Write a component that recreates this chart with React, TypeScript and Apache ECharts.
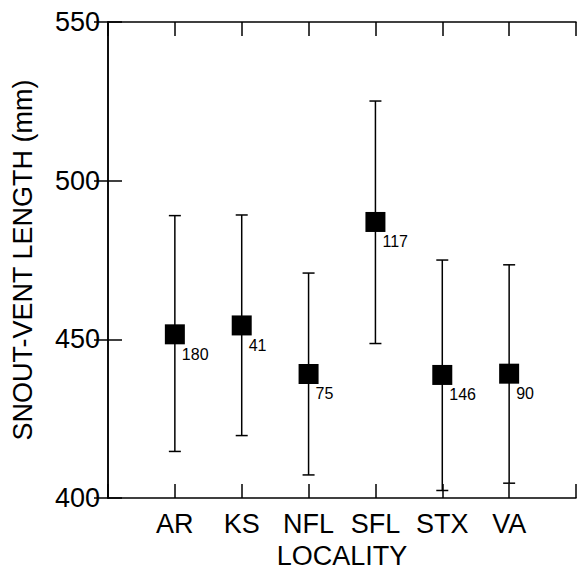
import React, { useEffect, useRef } from "react";
import * as echarts from "echarts";

const localities = ["AR", "KS", "NFL", "SFL", "STX", "VA"];
const means = [451.6, 454.4, 439.1, 487.0, 438.8, 439.2];
const lows = [414.7, 419.7, 407.3, 448.7, 402.4, 404.7];
const highs = [489.0, 489.2, 470.9, 525.1, 475.0, 473.5];
const counts = [180, 41, 75, 117, 146, 90];
const yTicks = [400, 450, 500, 550];

const FONT = "Liberation Sans, Arial, Helvetica, sans-serif";

export default function App() {
  const ref = useRef<HTMLDivElement>(null);
  useEffect(() => {
    if (!ref.current) return;
    document.body.style.margin = "0";
    document.documentElement.style.overflow = "hidden";
    const chart = echarts.init(ref.current, null, { renderer: "svg" });
    const pos = localities.map((_, i) => i + 1);
    const errData = localities.map((_, i) => [pos[i], lows[i], highs[i]]);
    const meanData = localities.map((_, i) => [pos[i], means[i], counts[i]]);
    const axisLine = { show: true, lineStyle: { color: "#000", width: 1.5 } };
    const tick = { show: true, inside: true, length: 14, lineStyle: { color: "#000", width: 1.5 } };
    chart.setOption({
      animation: false,
      backgroundColor: "#fff",
      textStyle: { fontFamily: FONT },
      grid: { left: 108, top: 22, width: 480, height: 480, containLabel: false },
      xAxis: [
        {
          type: "value",
          min: 0,
          max: 7,
          interval: 1,
          position: "bottom",
          axisLine,
          axisTick: tick,
          splitLine: { show: false },
          axisLabel: {
            margin: 12,
            fontSize: 27,
            color: "#000",
            fontFamily: FONT,
            formatter: (v: number) => (v >= 1 && v <= localities.length ? localities[v - 1] : ""),
          },
          name: "LOCALITY",
          nameLocation: "middle",
          nameGap: 42,
          nameTextStyle: { fontSize: 27, color: "#000", fontFamily: FONT },
        },
        {
          type: "value",
          min: 0,
          max: 7,
          interval: 1,
          position: "top",
          axisLine,
          axisTick: tick,
          splitLine: { show: false },
          axisLabel: { show: false },
        },
      ],
      yAxis: [
        {
          type: "value",
          min: yTicks[0],
          max: yTicks[yTicks.length - 1],
          interval: 50,
          position: "left",
          axisLine,
          axisTick: tick,
          splitLine: { show: false },
          axisLabel: { margin: 8, fontSize: 27, color: "#000", fontFamily: FONT },
          name: "SNOUT-VENT LENGTH (mm)",
          nameLocation: "middle",
          nameGap: 72,
          nameRotate: 90,
          nameTextStyle: { fontSize: 27, color: "#000", fontFamily: FONT },
        },
        {
          type: "value",
          min: yTicks[0],
          max: yTicks[yTicks.length - 1],
          interval: 50,
          position: "right",
          axisLine,
          axisTick: tick,
          splitLine: { show: false },
          axisLabel: { show: false },
        },
      ],
      series: [
        {
          type: "custom",
          xAxisIndex: 0,
          yAxisIndex: 0,
          data: errData,
          renderItem: (params: any, api: any) => {
            const x = api.value(0);
            const lo = api.coord([x, api.value(1)]);
            const hi = api.coord([x, api.value(2)]);
            const cap = 6;
            const style = { stroke: "#000", lineWidth: 1.5 };
            return {
              type: "group",
              children: [
                { type: "line", shape: { x1: lo[0], y1: lo[1], x2: hi[0], y2: hi[1] }, style },
                { type: "line", shape: { x1: lo[0] - cap, y1: lo[1], x2: lo[0] + cap, y2: lo[1] }, style },
                { type: "line", shape: { x1: hi[0] - cap, y1: hi[1], x2: hi[0] + cap, y2: hi[1] }, style },
              ],
            };
          },
          z: 2,
        },
        {
          type: "scatter",
          xAxisIndex: 0,
          yAxisIndex: 0,
          data: meanData,
          symbol: "rect",
          symbolSize: 20,
          itemStyle: { color: "#000", opacity: 1 },
          label: {
            show: true,
            position: [17, 22],
            align: "left",
            verticalAlign: "top",
            fontSize: 16,
            color: "#000",
            fontFamily: FONT,
            formatter: (p: any) => String(p.value[2]),
          },
          z: 3,
        },
      ],
    });
    return () => chart.dispose();
  }, []);
  return (
    <div
      ref={ref}
      style={{ position: "fixed", left: 0, top: 0, width: 579, height: 574, background: "#fff" }}
    />
  );
}
